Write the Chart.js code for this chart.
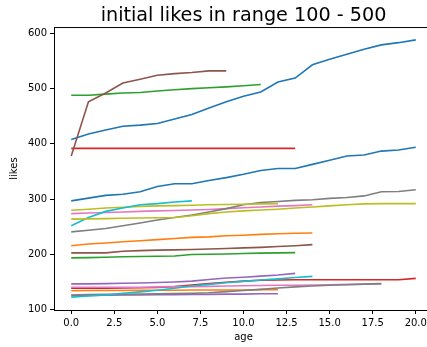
<!DOCTYPE html>
<html>
<head>
<meta charset="utf-8">
<script src="https://cdn.jsdelivr.net/npm/chart.js@4/dist/chart.umd.min.js"></script>
<style>
  html, body { margin: 0; padding: 0; background: #fff; overflow: hidden; }
  #wrap { position: relative; width: 487px; height: 347px; }
</style>
</head>
<body>
<div id="wrap"><canvas id="c"></canvas></div>
<script>
// Axis ticks
const xTicks = [0, 2.5, 5, 7.5, 10, 12.5, 15, 17.5, 20];
const yTicks = [100, 200, 300, 400, 500, 600];

// Likes per age (index = age) for each account
const likes01 = [408, 418, 425, 432, 434, 437, 445, 453, 465, 476, 486, 494, 512, 519, 543, 553, 562, 571, 579, 583, 588];
const likes02 = [216, 219, 221, 223, 225, 227, 229, 231, 232, 234, 235, 236.5, 237.5, 238.5, 239];
const likes03 = [488, 488, 490, 492, 493, 495.5, 498, 500, 501.5, 503, 505, 507.5];
const likes04 = [392, 392, 392, 392, 392, 392, 392, 392, 392, 392, 392, 392, 392, 392];
const likes05 = [147, 147, 147.5, 148, 148.5, 149.5, 150.5, 152, 155, 157.5, 159, 161, 163, 166];
const likes06 = [378, 476, 492, 510, 517, 524, 527, 529, 532, 532];
const likes07 = [274, 275, 276, 277, 278, 279, 279.5, 280.5, 281.5, 283, 284.5, 286, 287.5, 288.5, 290];
const likes08 = [241, 244, 247, 252, 257, 262.5, 267, 271.5, 277, 283, 290, 294, 296, 298, 299, 301.5, 303, 306, 313.5, 314, 317];
const likes09 = [280, 282, 284, 285.5, 287, 288, 288.5, 289, 290, 290.5, 291, 291.5, 292];
const likes10 = [252, 267, 278, 284, 290, 292, 295, 297];
const likes11 = [297, 302, 307, 309, 313.5, 323, 328, 328, 334, 339, 345, 352, 355.5, 355.5, 363, 370.5, 378, 380, 387, 389, 394];
const likes12 = [134.5, 135, 135, 135, 135.5, 135.5, 135.5, 136, 136, 136, 136, 136.5, 136.5];
const likes13 = [194, 194.5, 195, 196, 196.5, 197, 197.5, 200, 200.5, 201, 202, 202.5, 203, 203.5];
const likes14 = [139, 139, 139, 139.5, 140, 140.5, 142, 145, 147.5, 150, 152, 153.5, 154, 154.5, 154.5, 154.5, 154.5, 154.5, 154.5, 154.5, 157];
const likes15 = [126, 126, 126.5, 127, 127, 127.5, 127.5, 128, 128, 128.5, 128.5, 129, 129];
const likes16 = [203, 203, 203, 206, 207, 208, 208.5, 209, 210, 211, 212, 213, 214.5, 216, 218];
const likes17 = [141, 141, 141, 141, 141, 141.5, 142, 142, 142.5, 143, 143.5, 144, 144.5, 144.5, 145, 145.5, 146, 146.5, 147];
const likes18 = [127, 127.5, 128, 128, 128.5, 129, 129.5, 130, 131, 133, 135, 137, 139.5, 141.5, 143, 144.5, 145.5, 146.5, 147.5];
const likes19 = [264, 264.5, 265, 265.5, 266, 266.5, 267, 270, 274, 277, 279, 280.5, 282, 284, 286, 288, 290, 291.5, 292, 292, 292];
const likes20 = [123, 125, 127, 130, 132.5, 135.5, 139, 143, 146, 149, 151.5, 154, 156, 158.5, 160.5];

const allSeries = [likes01, likes02, likes03, likes04, likes05, likes06, likes07, likes08, likes09, likes10,
                   likes11, likes12, likes13, likes14, likes15, likes16, likes17, likes18, likes19, likes20];

// tab10 colour cycle
const palette = ['#1f77b4', '#ff7f0e', '#2ca02c', '#d62728', '#9467bd',
                 '#8c564b', '#e377c2', '#7f7f7f', '#bcbd22', '#17becf'];

const FONT = "'DejaVu Sans', sans-serif";

const datasets = allSeries.map((vals, i) => ({
  data: vals.map((v, age) => ({ x: age, y: v })),
  borderColor: palette[i % palette.length],
  backgroundColor: palette[i % palette.length],
  borderWidth: 1.6,
  pointRadius: 0,
  tension: 0,
  fill: false,
  yAxisID: 'y',
  order: -i          // later series drawn on top
}));

// Top and right frame lines around the plot area
const frame = {
  id: 'frame',
  afterDraw(chart) {
    const { ctx, chartArea: a } = chart;
    ctx.save();
    ctx.strokeStyle = '#000';
    ctx.lineWidth = 1;
    ctx.beginPath();
    ctx.moveTo(a.left, a.top + 0.5);
    ctx.lineTo(a.right, a.top + 0.5);
    ctx.moveTo(a.right - 0.5, a.top);
    ctx.lineTo(a.right - 0.5, a.bottom);
    ctx.stroke();
    ctx.restore();
  }
};

new Chart(document.getElementById('c'), {
  type: 'line',
  data: { datasets },
  plugins: [frame],
  options: {
    responsive: true,
    maintainAspectRatio: false,
    animation: false,
    layout: { padding: 0 },
    plugins: {
      legend: { display: false },
      tooltip: { enabled: false },
      title: {
        display: true,
        text: 'initial likes in range 100 - 500',
        color: '#000',
        font: { family: FONT, size: 19.2, weight: 'normal' },
        padding: { top: 4, bottom: 0 }
      }
    },
    scales: {
      x: {
        type: 'linear',
        min: -1,
        max: 21,
        afterBuildTicks: s => { s.ticks = xTicks.map(v => ({ value: v })); },
        afterFit: s => { s.height = 37; },
        ticks: {
          callback: v => Number(v).toFixed(1),
          color: '#000',
          font: { family: FONT, size: 10 },
          padding: 3,
          maxRotation: 0,
          autoSkip: false
        },
        grid: { drawOnChartArea: false, color: '#000', tickLength: 4, tickWidth: 1 },
        border: { color: '#000', width: 1 },
        title: {
          display: true,
          text: 'age',
          color: '#000',
          font: { family: FONT, size: 10 },
          padding: { top: 0, bottom: 4 }
        }
      },
      y: {
        type: 'linear',
        position: 'left',
        min: 99.75,
        max: 611.25,
        afterBuildTicks: s => { s.ticks = yTicks.map(v => ({ value: v })); },
        afterFit: s => { s.width = 54; },
        ticks: {
          callback: v => String(v),
          color: '#000',
          font: { family: FONT, size: 10 },
          padding: 3
        },
        grid: { drawOnChartArea: false, color: '#000', tickLength: 4, tickWidth: 1 },
        border: { color: '#000', width: 1 },
        title: {
          display: true,
          text: 'likes',
          color: '#000',
          font: { family: FONT, size: 10 },
          padding: { top: 8, bottom: 0 }
        }
      },
      // empty margin on the right of the plot, balancing the left axis
      yRight: {
        type: 'linear',
        position: 'right',
        min: 99.75,
        max: 611.25,
        afterFit: s => { s.width = 54; },
        ticks: { display: false },
        grid: { display: false, drawTicks: false },
        border: { display: false }
      }
    }
  }
});
</script>
</body>
</html>
